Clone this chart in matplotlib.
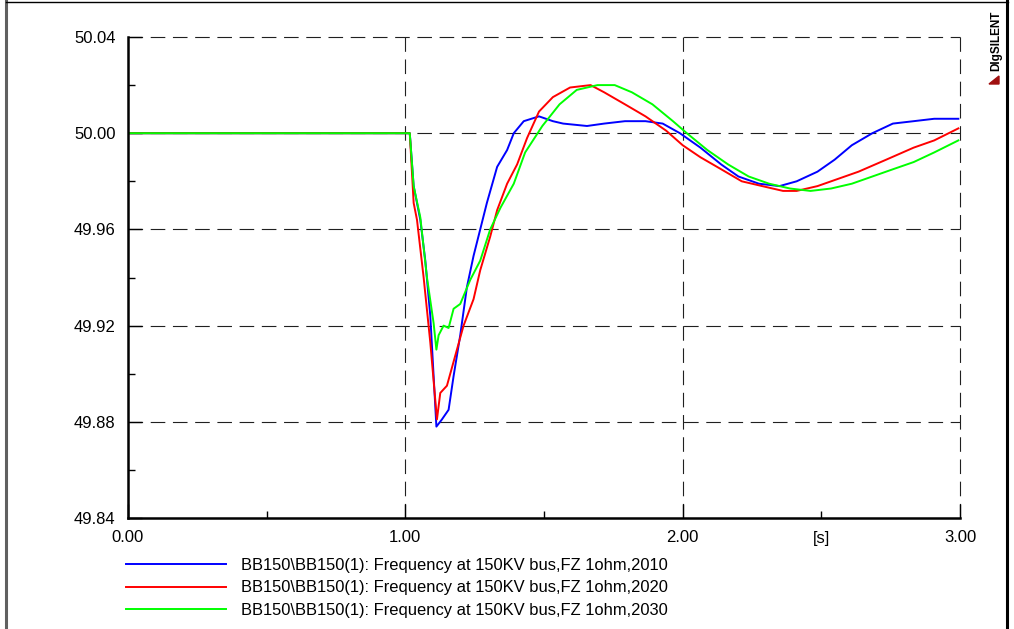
import matplotlib
matplotlib.use('Agg')
import matplotlib.pyplot as plt
from matplotlib.lines import Line2D
from matplotlib.patches import Polygon

plt.rcParams['font.family'] = ['Liberation Sans', 'DejaVu Sans']
plt.rcParams['lines.scale_dashes'] = False

# time [s] and frequency [Hz]
t_2010 = [0.0, 1.0, 1.016, 1.030, 1.054, 1.072, 1.090, 1.102, 1.112, 1.132, 1.156, 1.174,
          1.198, 1.222, 1.246, 1.270, 1.294, 1.331, 1.367, 1.391, 1.427, 1.482, 1.532,
          1.569, 1.655, 1.717, 1.792, 1.866, 1.928, 1.990, 2.064, 2.139, 2.201, 2.275,
          2.349, 2.411, 2.486, 2.548, 2.610, 2.684, 2.758, 2.833, 2.907, 2.994]
f_2010 = [50.0, 50.0, 50.0, 49.978, 49.964, 49.947, 49.924, 49.899, 49.878, 49.881, 49.885,
          49.899, 49.916, 49.936, 49.949, 49.960, 49.971, 49.986, 49.993, 50.000, 50.005,
          50.007, 50.005, 50.004, 50.003, 50.004, 50.005, 50.005, 50.004, 50.000, 49.994,
          49.987, 49.982, 49.979, 49.978, 49.980, 49.984, 49.989, 49.995, 50.000, 50.004,
          50.005, 50.006, 50.006]

t_2020 = [0.0, 1.0, 1.016, 1.030, 1.042, 1.066, 1.090, 1.108, 1.114, 1.126, 1.150, 1.174,
          1.210, 1.246, 1.270, 1.306, 1.331, 1.367, 1.403, 1.439, 1.482, 1.532, 1.594,
          1.668, 1.717, 1.792, 1.866, 1.941, 2.000, 2.064, 2.139, 2.213, 2.287, 2.362,
          2.411, 2.486, 2.560, 2.634, 2.734, 2.833, 2.907, 2.994]
f_2020 = [50.0, 50.0, 50.0, 49.971, 49.964, 49.940, 49.913, 49.889, 49.881, 49.892, 49.895,
          49.905, 49.920, 49.931, 49.943, 49.957, 49.968, 49.979, 49.987, 49.998, 50.009,
          50.015, 50.019, 50.020, 50.017, 50.012, 50.007, 50.001, 49.995, 49.990, 49.985,
          49.980, 49.978, 49.976, 49.976, 49.978, 49.981, 49.984, 49.989, 49.994, 49.997,
          50.002]

t_2030 = [0.0, 1.0, 1.016, 1.030, 1.054, 1.078, 1.102, 1.112, 1.120, 1.138, 1.156, 1.174,
          1.198, 1.234, 1.270, 1.306, 1.343, 1.391, 1.432, 1.494, 1.556, 1.618, 1.693,
          1.755, 1.817, 1.891, 1.965, 2.015, 2.089, 2.164, 2.238, 2.312, 2.387, 2.461,
          2.535, 2.610, 2.684, 2.758, 2.833, 2.907, 2.994]
f_2030 = [50.0, 50.0, 50.0, 49.978, 49.965, 49.940, 49.921, 49.910, 49.916, 49.920, 49.919,
          49.927, 49.929, 49.939, 49.947, 49.960, 49.969, 49.979, 49.992, 50.003, 50.012,
          50.018, 50.020, 50.020, 50.017, 50.012, 50.005, 50.000, 49.993, 49.987, 49.982,
          49.979, 49.977, 49.976, 49.977, 49.979, 49.982, 49.985, 49.988, 49.992, 49.997]

labels = ['BB150\\BB150(1): Frequency at 150KV bus,FZ 1ohm,2010',
          'BB150\\BB150(1): Frequency at 150KV bus,FZ 1ohm,2020',
          'BB150\\BB150(1): Frequency at 150KV bus,FZ 1ohm,2030']
colors = ['#0000ff', '#ff0000', '#00ff00']

x_ticks = [0.0, 1.0, 2.0, 3.0]
y_ticks = [49.84, 49.88, 49.92, 49.96, 50.00, 50.04]

fig = plt.figure(figsize=(10.14, 6.29), dpi=100)
ax = fig.add_axes([128 / 1014, 1 - 518 / 629, 832 / 1014, 481 / 629])

ax.plot(t_2010, f_2010, color=colors[0], lw=1.4, label=labels[0])
ax.plot(t_2020, f_2020, color=colors[1], lw=1.4, label=labels[1])
ax.plot(t_2030, f_2030, color=colors[2], lw=1.4, label=labels[2])

ax.set_xlim(0, 3)
ax.set_ylim(49.84, 50.04)
ax.set_xticks(x_ticks)
ax.set_xticklabels(['%.2f' % v for v in x_ticks])
ax.set_xticks([0.5, 1.5, 2.5], minor=True)
ax.set_xticklabels(['', '', '[s]'], minor=True)
ax.set_yticks(y_ticks)
ax.set_yticklabels(['%.2f' % v for v in y_ticks])
ax.set_yticks([49.86, 49.90, 49.94, 49.98, 50.02], minor=True)

ax.tick_params(which='both', direction='in', labelsize=12, colors='black')
ax.tick_params(axis='y', which='major', length=10, width=1, pad=9)
ax.tick_params(axis='y', which='minor', length=5, width=1)
ax.tick_params(axis='x', which='major', length=10, width=1, pad=9)
ax.tick_params(axis='x', which='minor', length=5, width=1, pad=9)

for s in ['top', 'right']:
    ax.spines[s].set_visible(False)
for s in ['left', 'bottom']:
    ax.spines[s].set_linewidth(1.8)

for v in x_ticks[1:]:
    ax.axvline(v, color='#202020', lw=0.8, dashes=(10.5, 5.5), zorder=0.5, clip_on=False)
for v in y_ticks[1:]:
    ax.axhline(v, color='#202020', lw=0.8, dashes=(10.5, 5.5), zorder=0.5, clip_on=False)

ax.legend(loc='upper left', bbox_to_anchor=(-0.003, -0.083), frameon=False,
          fontsize=11.9, handlelength=6.1, handletextpad=0.9, labelspacing=0.45,
          borderpad=0, borderaxespad=0)

# page frame
fig.add_artist(Line2D([6 / 1014, 6 / 1014], [0, 1], color='#606060', lw=2.2))
fig.add_artist(Line2D([6 / 1014, 1008 / 1014], [1 - 2 / 629, 1 - 2 / 629], color='black', lw=1.0))
fig.add_artist(Line2D([1007 / 1014, 1007 / 1014], [0, 1], color='black', lw=2.2))

# DIgSILENT logo
fig.text(996 / 1014, 1 - 41 / 629, 'DIgSILENT', rotation=90, fontsize=8.5,
         fontweight='bold', ha='center', va='center')
fig.add_artist(Polygon([[989 / 1014, 1 - 84 / 629], [999 / 1014, 1 - 76 / 629],
                        [999 / 1014, 1 - 84 / 629]], closed=True,
                       transform=fig.transFigure, color='#a01010'))

fig.savefig('out.png', dpi=100)
